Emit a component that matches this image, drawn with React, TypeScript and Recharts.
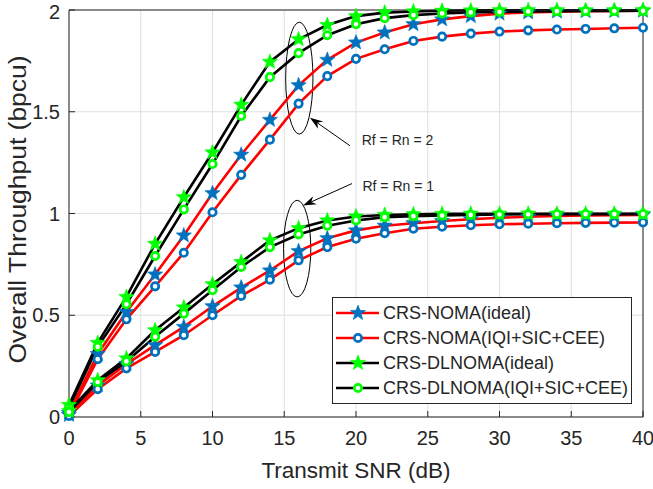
import {
  CartesianGrid,
  Legend,
  Line,
  LineChart,
  ReferenceArea,
  ReferenceDot,
  ReferenceLine,
  XAxis,
  YAxis,
} from "recharts"

const snr = [0, 2, 4, 6, 8, 10, 12, 14, 16, 18, 20, 22, 24, 26, 28, 30, 32, 34, 36, 38, 40]
const xTicks = [0, 5, 10, 15, 20, 25, 30, 35, 40]
const yTicks = [0, 0.5, 1, 1.5, 2]

// Rf = Rn = 2
const nomaIdeal2 = [0.02, 0.31, 0.516, 0.7, 0.892, 1.1, 1.289, 1.46, 1.63, 1.755, 1.84, 1.889, 1.93, 1.954, 1.97, 1.982, 1.988, 1.992, 1.994, 1.995, 1.996]
const nomaIqi2 = [0.01, 0.284, 0.48, 0.642, 0.807, 1.006, 1.19, 1.363, 1.54, 1.675, 1.76, 1.807, 1.848, 1.869, 1.884, 1.894, 1.9, 1.904, 1.907, 1.91, 1.913]
const dlnomaIdeal2 = [0.059, 0.364, 0.59, 0.851, 1.08, 1.3, 1.534, 1.745, 1.856, 1.926, 1.97, 1.987, 1.993, 1.996, 1.998, 1.999, 1.999, 1.999, 1.999, 1.999, 1.999]
const dlnomaIqi2 = [0.047, 0.345, 0.554, 0.791, 1.02, 1.243, 1.479, 1.67, 1.788, 1.876, 1.93, 1.96, 1.975, 1.983, 1.988, 1.991, 1.993, 1.994, 1.995, 1.995, 1.996]

// Rf = Rn = 1
const nomaIdeal1 = [0.01, 0.155, 0.26, 0.353, 0.443, 0.544, 0.636, 0.72, 0.815, 0.878, 0.917, 0.94, 0.952, 0.963, 0.972, 0.979, 0.984, 0.988, 0.99, 0.992, 0.993]
const nomaIqi1 = [0.005, 0.137, 0.239, 0.32, 0.402, 0.5, 0.595, 0.675, 0.77, 0.835, 0.876, 0.903, 0.925, 0.935, 0.942, 0.947, 0.95, 0.952, 0.954, 0.955, 0.956]
const dlnomaIdeal1 = [0.03, 0.181, 0.288, 0.426, 0.538, 0.652, 0.761, 0.868, 0.928, 0.966, 0.985, 0.993, 0.996, 0.998, 0.999, 0.999, 0.999, 0.999, 0.999, 0.999, 0.999]
const dlnomaIqi1 = [0.024, 0.172, 0.273, 0.394, 0.508, 0.623, 0.737, 0.835, 0.897, 0.94, 0.966, 0.982, 0.987, 0.99, 0.993, 0.995, 0.996, 0.997, 0.997, 0.997, 0.997]

const legendNames = ["CRS-NOMA(ideal)", "CRS-NOMA(IQI+SIC+CEE)", "CRS-DLNOMA(ideal)", "CRS-DLNOMA(IQI+SIC+CEE)"]

const FONT = "'Liberation Sans', Arial, sans-serif"
const TEXT = "#262626"
const RED = "#ff0000"
const BLUE = "#0072bd"
const GREEN = "#00ff00"

type Style = { line: string; marker: "star" | "circle"; color: string }
const styles: Style[] = [
  { line: RED, marker: "star", color: BLUE },
  { line: RED, marker: "circle", color: BLUE },
  { line: "#000000", marker: "star", color: GREEN },
  { line: "#000000", marker: "circle", color: GREEN },
]

const series = [
  { key: "a2", values: nomaIdeal2, style: 0 },
  { key: "b2", values: nomaIqi2, style: 1 },
  { key: "c2", values: dlnomaIdeal2, style: 2 },
  { key: "d2", values: dlnomaIqi2, style: 3 },
  { key: "a1", values: nomaIdeal1, style: 0 },
  { key: "b1", values: nomaIqi1, style: 1 },
  { key: "c1", values: dlnomaIdeal1, style: 2 },
  { key: "d1", values: dlnomaIqi1, style: 3 },
]

const data = snr.map((x, i) => {
  const row: Record<string, number> = { snr: x }
  series.forEach((s) => (row[s.key] = s.values[i]))
  return row
})

function starPath(cx: number, cy: number, R: number) {
  const r = R * 0.42
  let d = ""
  for (let k = 0; k < 10; k++) {
    const rad = k % 2 === 0 ? R : r
    const a = -Math.PI / 2 + (k * Math.PI) / 5
    d += (k === 0 ? "M" : "L") + (cx + rad * Math.cos(a)).toFixed(2) + "," + (cy + rad * Math.sin(a)).toFixed(2)
  }
  return d + "Z"
}

function Marker({ cx, cy, kind, color }: { cx: number; cy: number; kind: string; color: string }) {
  if (kind === "star") {
    return <path d={starPath(cx, cy, 8)} fill={color} stroke={color} strokeWidth={0.6} strokeLinejoin="round" />
  }
  return <circle cx={cx} cy={cy} r={3.7} fill="#ffffff" stroke={color} strokeWidth={2.7} />
}

function LegendBox() {
  return (
    <svg width={300} height={107} style={{ display: "block" }}>
      <rect x={0.5} y={0.5} width={299} height={106} fill="#ffffff" stroke={TEXT} strokeWidth={1} />
      {legendNames.map((name, i) => {
        const y = 16 + i * 25
        const st = styles[i]
        return (
          <g key={name}>
            <line x1={4} x2={47} y1={y} y2={y} stroke={st.line} strokeWidth={2.6} />
            <Marker cx={26} cy={y} kind={st.marker} color={st.color} />
            <text x={51} y={y} dy="0.36em" fontSize={18} fill={TEXT} fontFamily={FONT}>
              {name}
            </text>
          </g>
        )
      })}
    </svg>
  )
}

// annotations (data units)
const ellipses = [
  { x1: 15.1, x2: 17.0, y1: 1.39, y2: 1.94 },
  { x1: 14.95, x2: 16.85, y1: 0.59, y2: 1.065 },
]
const arrows = [
  { from: { x: 19.58, y: 1.333 }, to: { x: 16.79, y: 1.471 } },
  { from: { x: 19.72, y: 1.147 }, to: { x: 16.31, y: 1.039 } },
]
const notes = [
  { x: 20.4, y: 1.363, text: "Rf = Rn = 2" },
  { x: 20.45, y: 1.137, text: "Rf = Rn = 1" },
]

const ellipseShape = (p: any) => (
  <ellipse
    cx={p.x + p.width / 2}
    cy={p.y + p.height / 2}
    rx={Math.abs(p.width) / 2}
    ry={Math.abs(p.height) / 2}
    fill="none"
    stroke="#000"
    strokeWidth={1}
  />
)

const arrowShape = (p: any) => {
  const { x1, y1, x2, y2 } = p
  const ang = Math.atan2(y2 - y1, x2 - x1)
  const c = Math.cos(ang)
  const s = Math.sin(ang)
  const L = 13
  const W = 4.5
  const N = 9
  const bx = x2 - L * c
  const by = y2 - L * s
  const nx = x2 - N * c
  const ny = y2 - N * s
  const pts = [
    [x2, y2],
    [bx - W * s, by + W * c],
    [nx, ny],
    [bx + W * s, by - W * c],
  ]
  return (
    <g>
      <line x1={x1} y1={y1} x2={nx} y2={ny} stroke="#000" strokeWidth={1} />
      <polygon points={pts.map((q) => q.join(",")).join(" ")} fill="#000" />
    </g>
  )
}

const XLabel = (p: any) => {
  const vb = p.viewBox
  return (
    <text x={vb.x + vb.width / 2} y={vb.y + 61} textAnchor="middle" fontSize={22.5} fill={TEXT} fontFamily={FONT}>
      Transmit SNR (dB)
    </text>
  )
}

const YLabel = (p: any) => {
  const vb = p.viewBox
  const cx = vb.x + 26
  const cy = vb.y + vb.height / 2 - 4
  return (
    <text
      x={cx}
      y={cy}
      transform={`rotate(-90 ${cx} ${cy})`}
      textAnchor="middle"
      fontSize={23}
      textLength={308}
      lengthAdjust="spacingAndGlyphs"
      fill={TEXT}
      fontFamily={FONT}
    >
      Overall Throughput (bpcu)
    </text>
  )
}

const tickStyle = { fill: TEXT, fontSize: 20, fontFamily: FONT }

export default function App() {
  return (
    <div style={{ position: "absolute", left: 0, top: 0, width: 653, height: 489, background: "#fff" }}>
      <LineChart width={653} height={489} data={data} margin={{ top: 0, right: 0, bottom: 0, left: 0 }}>
        <CartesianGrid stroke="#dfdfdf" strokeWidth={1} />
        <XAxis
          dataKey="snr"
          type="number"
          domain={[0, 40]}
          ticks={xTicks}
          height={72}
          tick={tickStyle}
          tickSize={-6}
          tickMargin={20}
          axisLine={{ stroke: TEXT }}
          tickLine={{ stroke: TEXT }}
          label={<XLabel />}
        />
        <XAxis
          xAxisId="top"
          orientation="top"
          type="number"
          domain={[0, 40]}
          ticks={xTicks}
          height={10}
          tick={false}
          tickSize={-6}
          axisLine={{ stroke: TEXT }}
          tickLine={{ stroke: TEXT }}
        />
        <YAxis
          type="number"
          domain={[0, 2]}
          ticks={yTicks}
          width={69}
          tick={tickStyle}
          tickSize={-6}
          tickMargin={15}
          axisLine={{ stroke: TEXT }}
          tickLine={{ stroke: TEXT }}
          label={<YLabel />}
        />
        <YAxis
          yAxisId="right"
          orientation="right"
          type="number"
          domain={[0, 2]}
          ticks={yTicks}
          width={10}
          tick={false}
          tickSize={-6}
          axisLine={{ stroke: TEXT }}
          tickLine={{ stroke: TEXT }}
        />
        {series.map((s) => {
          const st = styles[s.style]
          return (
            <Line
              key={s.key}
              dataKey={s.key}
              type="linear"
              stroke={st.line}
              strokeWidth={2.6}
              isAnimationActive={false}
              activeDot={false}
              legendType="none"
              dot={(p: any) => (
                <Marker key={`${s.key}-${p.index}`} cx={p.cx} cy={p.cy} kind={st.marker} color={st.color} />
              )}
            />
          )
        })}
        {ellipses.map((e, i) => (
          <ReferenceArea key={`e${i}`} x1={e.x1} x2={e.x2} y1={e.y1} y2={e.y2} shape={ellipseShape} />
        ))}
        {arrows.map((a, i) => (
          <ReferenceLine key={`a${i}`} segment={[a.from, a.to]} shape={arrowShape} />
        ))}
        {notes.map((n) => (
          <ReferenceDot
            key={n.text}
            x={n.x}
            y={n.y}
            r={0}
            shape={(p: any) => (
              <text x={p.cx} y={p.cy} dy="0.36em" fontSize={14} fill={TEXT} fontFamily={FONT}>
                {n.text}
              </text>
            )}
          />
        ))}
        <Legend
          layout="vertical"
          align="center"
          verticalAlign="middle"
          content={() => <LegendBox />}
          wrapperStyle={{ left: 332, top: 297, width: 300, height: 107 }}
        />
      </LineChart>
    </div>
  )
}
